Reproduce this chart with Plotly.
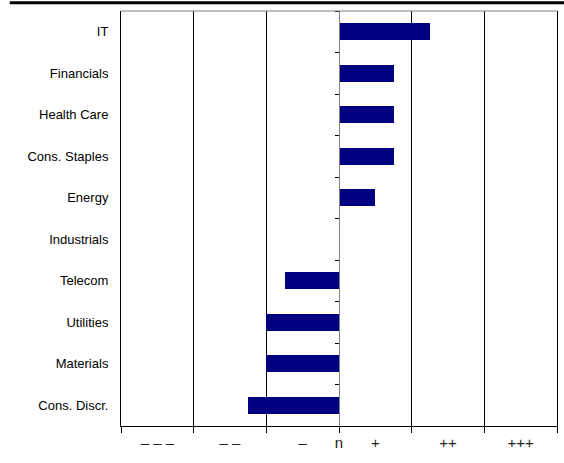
import plotly.graph_objects as go

# Sector positioning scores (units: one step of the ---/+++ scale)
sectors = ["IT", "Financials", "Health Care", "Cons. Staples", "Energy",
           "Industrials", "Telecom", "Utilities", "Materials", "Cons. Discr."]
scores = [1.25, 0.75, 0.75, 0.75, 0.5, 0.0, -0.75, -1.0, -1.0, -1.25]

scale_pos = [-2.5, -1.5, -0.5, 0, 0.5, 1.5, 2.5]
scale_text = ["\u2013 \u2013 \u2013", "\u2013 \u2013", "\u2013", "n", "+", "++", "+++"]

idx = list(range(len(sectors)))
yrange = [len(sectors) - 0.5, -0.5]
boundaries = [i - 0.5 for i in range(len(sectors) + 1)]

fig = go.Figure()
fig.add_trace(go.Bar(
    x=scores, y=idx, orientation="h", width=0.41,
    marker=dict(color="#000080", line=dict(width=0)),
    hoverinfo="skip", showlegend=False,
))
# invisible trace so the centre axis is rendered
fig.add_trace(go.Scatter(x=[0], y=[0], yaxis="y2", mode="markers",
                         marker=dict(opacity=0), hoverinfo="skip", showlegend=False))

font = dict(family="Liberation Sans, Arial, sans-serif", size=13, color="#000000")

fig.update_layout(
    width=564, height=463,
    margin=dict(l=121, r=7, t=11, b=37),
    paper_bgcolor="white", plot_bgcolor="white",
    font=font,
    bargap=0,
    xaxis=dict(
        range=[-3, 3], tickvals=scale_pos, ticktext=scale_text, ticks="",
        showgrid=False, zeroline=False,
        showline=True, linecolor="#000000", linewidth=1,
        tickfont=dict(size=15, color="#222222"),
        ticklabelstandoff=3,
        minor=dict(tick0=0, dtick=1, ticks="outside", ticklen=6, tickcolor="#000000",
                   showgrid=True, gridcolor="#000000", gridwidth=1),
    ),
    yaxis=dict(
        range=yrange, tickvals=idx, ticktext=sectors, ticks="",
        showgrid=False, zeroline=False,
        showline=True, linecolor="#000000", linewidth=1, mirror=True,
        ticklabelstandoff=9,
    ),
    yaxis2=dict(
        overlaying="y", anchor="free", position=0.5, side="left",
        range=yrange, tickvals=boundaries, ticks="outside", ticklen=4,
        tickcolor="#000000", showticklabels=False, showgrid=False, zeroline=False,
        showline=True, linecolor="#808080", linewidth=1,
    ),
    shapes=[
        dict(type="line", xref="paper", yref="paper", x0=0, x1=1, y0=1, y1=1,
             line=dict(color="#808080", width=1)),
        dict(type="line", xref="paper", yref="paper", x0=-0.255, x1=1.02,
             y0=1.02, y1=1.02, line=dict(color="#000000", width=3)),
    ],
)

fig.write_html("out.html")
